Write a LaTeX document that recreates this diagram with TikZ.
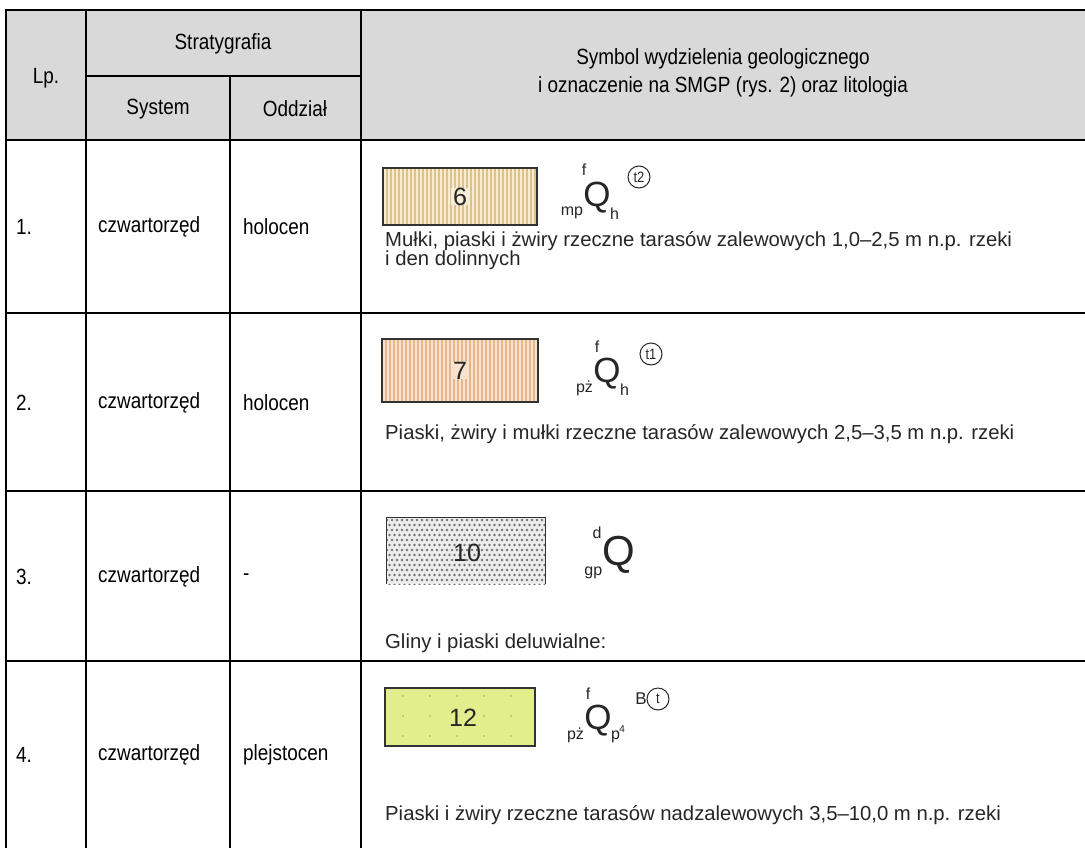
\documentclass[tikz,border=0pt]{standalone}
\usepackage{fontspec}
\setmainfont{Liberation Sans}
\newfontfamily\narrowfont[FakeStretch=0.86]{Liberation Sans}
\definecolor{hdrgrey}{HTML}{D9D9D9}
\definecolor{txtgrey}{HTML}{262626}
\definecolor{fillA}{RGB}{248,236,212}
\definecolor{strA}{RGB}{222,192,140}
\definecolor{fillB}{RGB}{250,226,206}
\definecolor{strB}{RGB}{228,184,140}
\definecolor{fillC}{RGB}{236,236,236}
\definecolor{fillD}{RGB}{226,238,140}
\definecolor{dotD}{RGB}{180,190,110}
\tikzset{
  gridline/.style={line width=2.3pt, line cap=rect},
  celltext/.style={anchor=west, inner sep=0pt, font=\narrowfont\fontsize{22}{26}\selectfont},
  hdrtext/.style={inner sep=0pt, align=center, font=\narrowfont\fontsize{22}{28}\selectfont},
  legtext/.style={anchor=west, inner sep=0pt, align=left, text=txtgrey, font=\fontsize{20.3}{19}\selectfont},
  legbox/.style={rectangle, inner sep=0pt, line width=1.3pt, draw=black!80, text=txtgrey},
  numtext/.style={inner sep=0pt, text=txtgrey, font=\fontsize{25}{25}\selectfont},
  qsym/.style={inner sep=0pt, text=txtgrey, font=\fontsize{35}{35}\selectfont},
  subsym/.style={inner sep=0pt, text=txtgrey, font=\fontsize{16}{16}\selectfont},
  ringsym/.style={circle, draw=txtgrey, line width=1pt, inner sep=0pt, minimum size=22pt, text=txtgrey, font=\narrowfont\fontsize{15}{15}\selectfont},
}
\begin{document}
\begin{tikzpicture}[x=1pt,y=-1pt]
\useasboundingbox (0,0) rectangle (1085,847);
\fill[white] (0,0) rectangle (1085,847);
% header background
\fill[hdrgrey] (6,10) rectangle (1085,140);
% grid
\draw[gridline] (6,10) -- (1085,10);
\draw[gridline] (86,76) -- (361,76);
\draw[gridline] (6,140) -- (1085,140);
\draw[gridline] (6,313) -- (1085,313);
\draw[gridline] (6,491) -- (1085,491);
\draw[gridline] (6,661) -- (1085,661);
\draw[gridline] (6,10) -- (6,850);
\draw[gridline] (86,10) -- (86,850);
\draw[gridline] (230,76) -- (230,850);
\draw[gridline] (361,10) -- (361,850);
% header texts
\node[hdrtext] (hlp) at (46,78) {Lp.};
\node[hdrtext] (hstr) at (223,44) {Stratygrafia};
\node[hdrtext] (hsys) at (158,109) {System};
\node[hdrtext] (hodd) at (295,109) {Oddział};
\node[hdrtext] (hsym) at (723,73) {Symbol wydzielenia geologicznego\\ i oznaczenie na SMGP (rys. 2) oraz litologia};
% row texts
\node[celltext] (r1a) at (16,227) {1.};
\node[celltext] (r1b) at (98,227) {czwartorzęd};
\node[celltext] (r1c) at (243,227) {holocen};
\node[celltext] (r2a) at (16,403) {2.};
\node[celltext] (r2b) at (98,403) {czwartorzęd};
\node[celltext] (r2c) at (243,403) {holocen};
\node[celltext] (r3a) at (16,577) {3.};
\node[celltext] (r3b) at (98,577) {czwartorzęd};
\node[celltext] (r3c) at (243,577) {-};
\node[celltext] (r4a) at (16,755) {4.};
\node[celltext] (r4b) at (98,755) {czwartorzęd};
\node[celltext] (r4c) at (243,755) {plejstocen};
% ---- row 1 legend
\node[legbox, fill=fillA, minimum width=154pt, minimum height=57pt,
  path picture={\foreach \i in {1,...,38}{\draw[line width=1.1pt, strA]
     ([xshift=\i*4pt]path picture bounding box.south west) -- ([xshift=\i*4pt]path picture bounding box.north west);}}]
  (b1) at (460,196.5) {};
\node[numtext, fill=fillA, inner xsep=2pt] (n1) at (b1) {6};
\node[qsym] (q1) at (597,198) {Q};
\node[subsym, anchor=east] (q1l) at ([yshift=1pt]q1.south west) {mp};
\node[subsym, anchor=west] (q1r) at ([xshift=-1pt,yshift=0pt]q1.south east) {h};
\node[subsym] (q1t) at (584,170) {f};
\node[ringsym] (c1) at (639,177) {t2};
\node[legtext] (t1) at (385,251) {Mułki, piaski i żwiry rzeczne tarasów zalewowych 1,0–2,5 m n.p. rzeki\\i den dolinnych};
% ---- row 2 legend
\node[legbox, fill=fillB, minimum width=156pt, minimum height=63pt,
  path picture={\foreach \i in {1,...,39}{\draw[line width=1.1pt, strB]
     ([xshift=\i*4pt]path picture bounding box.south west) -- ([xshift=\i*4pt]path picture bounding box.north west);}}]
  (b2) at (460,370.5) {};
\node[numtext, fill=fillB, inner xsep=2pt] (n2) at (b2) {7};
\node[qsym] (q2) at (607,374) {Q};
\node[subsym, anchor=east] (q2l) at ([yshift=1pt]q2.south west) {pż};
\node[subsym, anchor=west] (q2r) at ([xshift=-1pt,yshift=0pt]q2.south east) {h};
\node[subsym] (q2t) at (597,347) {f};
\node[ringsym] (c2) at (651,354) {t1};
\node[legtext] (t2) at (385,434) {Piaski, żwiry i mułki rzeczne tarasów zalewowych 2,5–3,5 m n.p. rzeki};
% ---- row 3 legend
\node[rectangle, inner sep=0pt, fill=fillC, minimum width=158pt, minimum height=66pt,
  path picture={\foreach \j in {0,...,13}{\foreach \i in {0,...,32}{
     \pgfmathsetmacro\xo{mod(\j,2)*2.5}
     \fill[black!55] ([xshift=\i*5pt+\xo pt, yshift=-\j*5pt-2pt]path picture bounding box.north west) circle[radius=1.4pt];}}}]
  (b3) at (466,551) {};
\draw[line width=1.3pt, black!80] (b3.south west) -- (b3.north west) -- (b3.north east) -- (b3.south east);
\node[numtext] (n3) at (467,553) {10};
\node[qsym, font=\fontsize{42}{42}\selectfont] (q3) at (619,555) {Q};
\node[subsym, anchor=east] (q3l) at ([yshift=1pt]q3.south west) {gp};
\node[subsym] (q3t) at (597,533) {d};
\node[legtext] (t3) at (385,643) {Gliny i piaski deluwialne:};
% ---- row 4 legend
\node[legbox, fill=fillD, minimum width=150pt, minimum height=58pt,
  path picture={\foreach \j in {0,...,2}{\foreach \i in {0,...,5}{
     \fill[dotD] ([xshift=\i*27pt+18pt, yshift=-\j*20pt-8pt]path picture bounding box.north west) circle[radius=1.2pt];}}}]
  (b4) at (460,717) {};
\node[numtext] (n4) at (463,718) {12};
\node[qsym] (q4) at (598,721) {Q};
\node[subsym, anchor=east] (q4l) at ([yshift=1pt]q4.south west) {pż};
\node[subsym, anchor=west] (q4r) at ([xshift=-1pt,yshift=0pt]q4.south east) {p};
\node[inner sep=0pt, text=txtgrey, font=\fontsize{10}{10}\selectfont] (q4s) at ([xshift=2pt,yshift=2pt]q4r.north east) {4};
\node[subsym] (q4t) at (588,694) {f};
\node[subsym, font=\fontsize{17}{17}\selectfont] (q4b) at (641,699) {B};
\node[ringsym] (c4) at (658,699) {t};
\node[legtext] (t4) at (385,815) {Piaski i żwiry rzeczne tarasów nadzalewowych 3,5–10,0 m n.p. rzeki};
\end{tikzpicture}
\end{document}
